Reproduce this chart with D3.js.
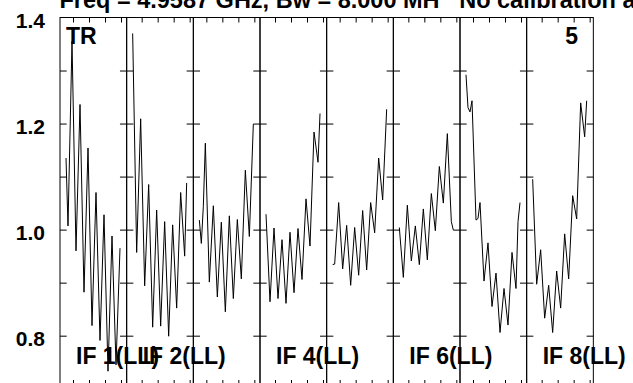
<!DOCTYPE html>
<html><head><meta charset="utf-8">
<script src="https://cdn.jsdelivr.net/npm/d3@7"></script>
<style>html,body{margin:0;padding:0;background:#fff;overflow:hidden}
text{font-family:"Liberation Sans",Arial,Helvetica,sans-serif;font-weight:bold;fill:#000}</style>
</head><body>
<svg id="c" width="633" height="383"></svg>
<script>
// ---- data ----
const titleText = "Freq = 4.9587 GHz, Bw = 8.000 MH   No calibration applied";
const panelLabels = ["IF 1(LL)", "IF 2(LL)", "", "IF 4(LL)", "", "IF 6(LL)", "", "IF 8(LL)"];
const yTickValues = [0.8, 0.9, 1.0, 1.1, 1.2, 1.3];
const yLabelValues = [0.8, 1.0, 1.2, 1.4];
const xTicksOdd = [4.5, 12.5, 20.5, 28.5];
const xTicksEven = [5.5, 13.5, 21.5, 29.5];

const chan1 = [1, 2, 4, 6, 8, 10, 12, 14, 16, 18, 20, 22, 24, 26, 28];
const amp1 = [1.135, 1.007, 1.355, 0.960, 1.236, 0.882, 1.154, 0.819, 1.070, 0.791, 1.028, 0.733, 0.988, 0.745, 0.965];
const chan2 = [1, 3, 5, 7, 9, 11, 13, 15, 17, 19, 21, 23, 25, 27, 28];
const amp2 = [1.370, 0.957, 1.209, 0.894, 1.085, 0.816, 1.037, 0.818, 1.015, 0.799, 1.009, 0.852, 1.070, 0.950, 1.088];
const chan3 = [1, 2, 3, 4, 6, 8, 10, 12, 14, 16, 18, 20, 22, 24, 26, 28];
const amp3 = [1.018, 0.974, 1.044, 1.163, 0.901, 1.045, 0.873, 1.014, 0.845, 1.026, 0.870, 1.019, 0.907, 1.112, 0.987, 1.199];
const chan4 = [1, 3, 5, 7, 9, 11, 13, 15, 17, 19, 21, 23, 25, 27, 28];
const amp4 = [1.029, 0.864, 1.003, 0.870, 0.981, 0.861, 0.995, 0.881, 1.002, 0.906, 1.058, 0.969, 1.184, 1.127, 1.219];
const chan5 = [1, 2, 4, 6, 8, 10, 12, 14, 16, 18, 20, 22, 24, 26, 28];
const amp5 = [0.934, 0.935, 1.051, 0.926, 1.008, 0.895, 1.004, 0.914, 1.036, 0.924, 1.051, 0.994, 1.135, 1.056, 1.227];
const chan6 = [1, 3, 5, 7, 9, 11, 13, 15, 17, 19, 21, 23, 25, 27, 28];
const amp6 = [1.004, 0.910, 1.046, 0.941, 1.007, 0.934, 1.039, 0.943, 1.068, 0.998, 1.119, 1.050, 1.181, 1.015, 0.999];
const chan7 = [1, 2, 3, 4, 6, 7, 8, 10, 12, 14, 16, 18, 20, 22, 24, 26, 27, 28];
const amp7 = [1.292, 1.230, 1.222, 1.243, 1.018, 1.021, 1.051, 0.903, 0.975, 0.855, 0.918, 0.806, 0.889, 0.820, 0.957, 0.889, 1.015, 1.051];
const chan8 = [1, 3, 5, 7, 9, 11, 13, 15, 17, 19, 21, 23, 25, 27, 28];
const amp8 = [1.095, 0.897, 0.962, 0.833, 0.895, 0.806, 0.922, 0.852, 0.992, 0.907, 1.064, 1.020, 1.239, 1.175, 1.243];

const chans = [chan1, chan2, chan3, chan4, chan5, chan6, chan7, chan8];
const amps = [amp1, amp2, amp3, amp4, amp5, amp6, amp7, amp8];

// ---- layout ----
const plotLeft = 60, panelW = 200 / 3, nPanels = 8;
const topY = 17.5, bottomY = 385;
const svg = d3.select("#c");

const y = d3.scaleLinear().domain([0.707, 1.4]).range([bottomY, topY]);
const panelX = d3.scaleLinear().domain([0, nPanels]).range([plotLeft, plotLeft + panelW * nPanels]);

// title
svg.append("text").attr("x", 59.5).attr("y", 8).style("font-size", "23.5px")
  .style("white-space", "pre").text(titleText);

// y labels
const yLab = svg.append("g").attr("transform", `translate(${plotLeft},0)`)
  .call(d3.axisLeft(y).tickValues(yLabelValues).tickSize(0).tickPadding(15).tickFormat(d3.format(".1f")));
yLab.select(".domain").remove();
yLab.selectAll("text").attr("dy", "0.46em").style("font-size", "21px").attr("font-family", null).attr("fill", "#000");

// panels
for (let i = 0; i < nPanels; i++) {
  const x0 = panelX(i), x1 = panelX(i + 1);
  const x = d3.scaleLinear().domain([-2, 31.333]).range([x0, x1]);
  const g = svg.append("g");
  const xt = (i % 2 === 0) ? xTicksOdd : xTicksEven;

  g.append("rect").attr("x", x0).attr("y", topY).attr("width", x1 - x0).attr("height", bottomY - topY)
    .attr("fill", "none").attr("stroke", "#000").attr("stroke-width", 1);

  const axes = [
    [d3.axisRight(y).tickValues(yTickValues).tickSize(6.7), `translate(${x0},0)`],
    [d3.axisLeft(y).tickValues(yTickValues).tickSize(6.7), `translate(${x1},0)`],
    [d3.axisBottom(x).tickValues(xt).tickSize(5), `translate(0,${topY})`],
    [d3.axisTop(x).tickValues(xt).tickSize(5), `translate(0,${bottomY})`]
  ];
  axes.forEach(([ax, tr]) => {
    const a = g.append("g").attr("transform", tr).call(ax.tickFormat(""));
    a.select(".domain").remove();
    a.selectAll("line").attr("stroke", "#000").attr("stroke-width", 1);
    a.selectAll("text").remove();
  });

  const pts = chans[i].map((c, k) => ({c, v: amps[i][k]}));
  g.append("path").datum(pts)
    .attr("d", d3.line().x(d => x(d.c)).y(d => y(d.v)))
    .attr("fill", "none").attr("stroke", "#000").attr("stroke-width", 1);

  if (panelLabels[i]) {
    g.append("text").attr("x", x0 + 16).attr("y", 364).style("font-size", "23px").text(panelLabels[i]);
  }
}

svg.append("text").attr("x", 66).attr("y", 44).style("font-size", "23px").text("TR");
svg.append("text").attr("x", 578).attr("y", 43.5).attr("text-anchor", "end").style("font-size", "23px").text("5");
</script>
</body></html>
